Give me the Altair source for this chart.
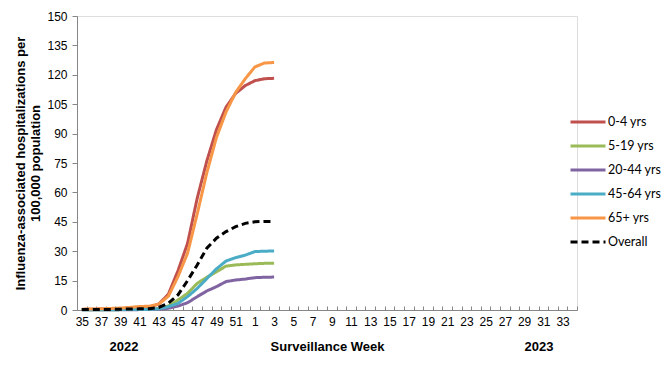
import altair as alt
import pandas as pd

weeks = list(range(35, 53)) + list(range(1, 35))
data_weeks = list(range(35, 53)) + [1, 2, 3]

series_names = ["0-4 yrs", "5-19 yrs", "20-44 yrs", "45-64 yrs", "65+ yrs", "Overall"]
series_colors = ["#C0504D", "#9BBB59", "#8064A2", "#4BACC6", "#F79646", "#000000"]

v_0_4 = [0.3, 0.4, 0.5, 0.6, 0.7, 0.9, 1.2, 1.5, 3.0, 8.0, 20.0, 34.0, 57.0, 76.0, 92.0, 103.5, 110.5, 114.5, 117.0, 118.0, 118.2]
v_5_19 = [0.1, 0.1, 0.1, 0.1, 0.2, 0.2, 0.3, 0.4, 0.8, 2.0, 5.1, 8.5, 13.6, 16.7, 19.5, 22.4, 23.0, 23.3, 23.6, 23.8, 23.8]
v_20_44 = [0.1, 0.1, 0.1, 0.1, 0.1, 0.1, 0.2, 0.2, 0.4, 0.9, 2.0, 3.7, 6.8, 9.7, 11.9, 14.5, 15.3, 15.8, 16.5, 16.7, 16.8]
v_45_64 = [0.1, 0.1, 0.1, 0.1, 0.2, 0.2, 0.2, 0.3, 0.6, 1.7, 3.4, 6.8, 11.0, 16.0, 21.0, 25.0, 26.7, 28.0, 29.8, 30.0, 30.1]
v_65 = [0.4, 0.5, 0.6, 0.8, 1.0, 1.3, 1.8, 1.9, 3.0, 7.0, 17.0, 29.0, 49.0, 70.0, 88.0, 101.0, 111.0, 118.0, 124.0, 126.0, 126.3]
v_overall = [0.2, 0.2, 0.3, 0.3, 0.4, 0.5, 0.6, 0.7, 1.3, 3.4, 7.7, 15.0, 23.0, 31.5, 36.6, 40.0, 42.5, 44.2, 45.0, 45.2, 45.2]

y_ticks = list(range(0, 151, 15))
year_labels = ["2022", "2023"]

rows = []
for name, vals in zip(series_names, [v_0_4, v_5_19, v_20_44, v_45_64, v_65, v_overall]):
    for wk, v in zip(data_weeks, vals):
        idx = weeks.index(wk)
        rows.append({"series": name, "week": wk, "pos": idx + 0.5, "value": v})
df = pd.DataFrame(rows)

n = len(weeks)
label_vals = [i + 0.5 for i in range(0, n, 2)]
label_expr = "floor(datum.value) < 18 ? floor(datum.value) + 35 : floor(datum.value) - 17"
boundaries = pd.DataFrame({"b": list(range(n + 1))})

FONT = "Liberation Sans"
AXIS_GREY = "#868686"

x_scale = alt.Scale(domain=[0, n], nice=False, zero=False)

lines = alt.Chart(df).mark_line(strokeWidth=3).encode(
    x=alt.X("pos:Q", scale=x_scale,
            axis=alt.Axis(values=label_vals, labelExpr=label_expr, ticks=False,
                          domain=True, domainColor=AXIS_GREY, grid=False,
                          labelFont=FONT, labelFontSize=12, labelColor="#000000",
                          labelPadding=6, labelFlush=False, labelOverlap=False,
                          title="Surveillance Week", titleFont=FONT, titleFontSize=13,
                          titleFontWeight="bold", titleColor="#000000", titlePadding=13)),
    y=alt.Y("value:Q", scale=alt.Scale(domain=[0, 150], nice=False),
            axis=alt.Axis(values=y_ticks, grid=False, domainColor=AXIS_GREY,
                          tickColor=AXIS_GREY, tickSize=5, labelFont=FONT,
                          labelFontSize=12, labelColor="#000000", labelPadding=5,
                          title=["Influenza-associated hospitalizations per", "100,000  population"],
                          titleFont=FONT, titleFontSize=13, titleFontWeight="bold",
                          titleColor="#000000", titlePadding=4, titleLineHeight=15)),
    color=alt.Color("series:N", scale=alt.Scale(domain=series_names, range=series_colors),
                    legend=alt.Legend(title=None, orient="none", legendX=492, legendY=99,
                                      symbolType="stroke", symbolSize=1225, symbolStrokeWidth=3,
                                      clipHeight=14,
                                      labelFont="Lato", labelFontSize=12.5, labelColor="#000000",
                                      rowPadding=10, labelOffset=1)),
    strokeDash=alt.StrokeDash("series:N",
                              scale=alt.Scale(domain=series_names,
                                              range=[[1, 0], [1, 0], [1, 0], [1, 0], [1, 0], [7, 4]]),
                              legend=None),
    order=alt.Order("pos:Q"),
)

ticks = alt.Chart(boundaries).mark_point(opacity=0).encode(
    x=alt.X("b:Q", scale=x_scale,
            axis=alt.Axis(orient="top", offset=-294, values=list(range(n + 1)), labels=False,
                          ticks=True, tickSize=4, tickColor=AXIS_GREY, domain=False,
                          grid=False, title=None)),
)

years = alt.Chart(pd.DataFrame({"year": year_labels, "px": [47, 462]})).mark_text(
    font=FONT, fontSize=13, fontWeight="bold", color="#000000"
).encode(
    text="year:N",
    x=alt.X("px:Q", scale=None),
    y=alt.value(331),
)

chart = alt.layer(lines, ticks, years).resolve_axis(x="independent").properties(
    width=500, height=294,
    padding={"left": 69, "top": 8, "right": 86, "bottom": 47},
    autosize=alt.AutoSizeParams(type="none"),
).configure_view(stroke=None).configure(background="white")

chart.save("out.html", embed_options={"renderer": "svg", "actions": False})
